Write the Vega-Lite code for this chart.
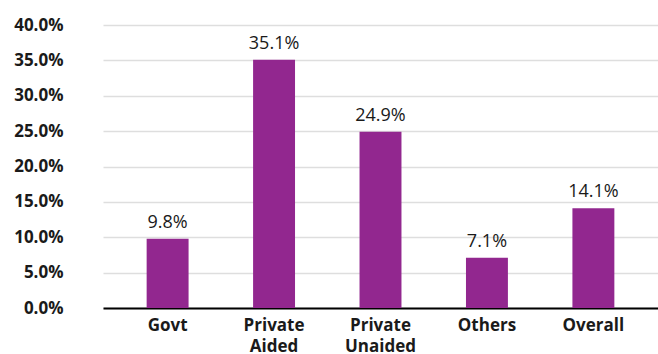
{
  "$schema": "https://vega.github.io/schema/vega-lite/v6.json",
  "autosize": {"type": "none"},
  "padding": {"left": 103, "top": 25, "right": 0, "bottom": 46},
  "width": 555,
  "height": 283,
  "background": "white",
  "data": {
    "values": [
      {"category": "Govt", "value": 0.098},
      {"category": "Private Aided", "value": 0.351},
      {"category": "Private Unaided", "value": 0.249},
      {"category": "Others", "value": 0.071},
      {"category": "Overall", "value": 0.141}
    ]
  },
  "config": {
    "view": {"stroke": null},
    "font": "Open Sans"
  },
  "encoding": {
    "x": {
      "field": "category",
      "type": "nominal",
      "sort": null,
      "scale": {"paddingInner": 0.606, "paddingOuter": 0.41},
      "axis": {
        "title": null,
        "labelAngle": 0,
        "labelExpr": "split(datum.label, ' ')",
        "labelFont": "Open Sans",
        "labelFontWeight": "bold",
        "labelFontSize": 17,
        "labelColor": "#1a1a1a",
        "labelLineHeight": 21,
        "labelPadding": 9,
        "labelOverlap": false,
        "ticks": false,
        "domainColor": "#000000",
        "domainWidth": 2,
        "grid": false
      }
    },
    "y": {
      "field": "value",
      "type": "quantitative",
      "scale": {"domain": [0, 0.4]},
      "axis": {
        "title": null,
        "format": ".1%",
        "values": [0, 0.05, 0.1, 0.15, 0.2, 0.25, 0.3, 0.35, 0.4],
        "labelOverlap": false,
        "labelFont": "Open Sans",
        "labelFontWeight": "bold",
        "labelFontSize": 17,
        "labelColor": "#1a1a1a",
        "labelPadding": 40,
        "ticks": false,
        "domain": false,
        "grid": true,
        "gridColor": "#dedede",
        "gridWidth": 1.5
      }
    }
  },
  "layer": [
    {"mark": {"type": "bar", "color": "#92278F"}},
    {
      "mark": {"type": "text", "baseline": "bottom", "dy": -7, "font": "Open Sans", "fontSize": 18, "color": "#1a1a1a"},
      "encoding": {"text": {"field": "value", "format": ".1%"}}
    }
  ]
}
